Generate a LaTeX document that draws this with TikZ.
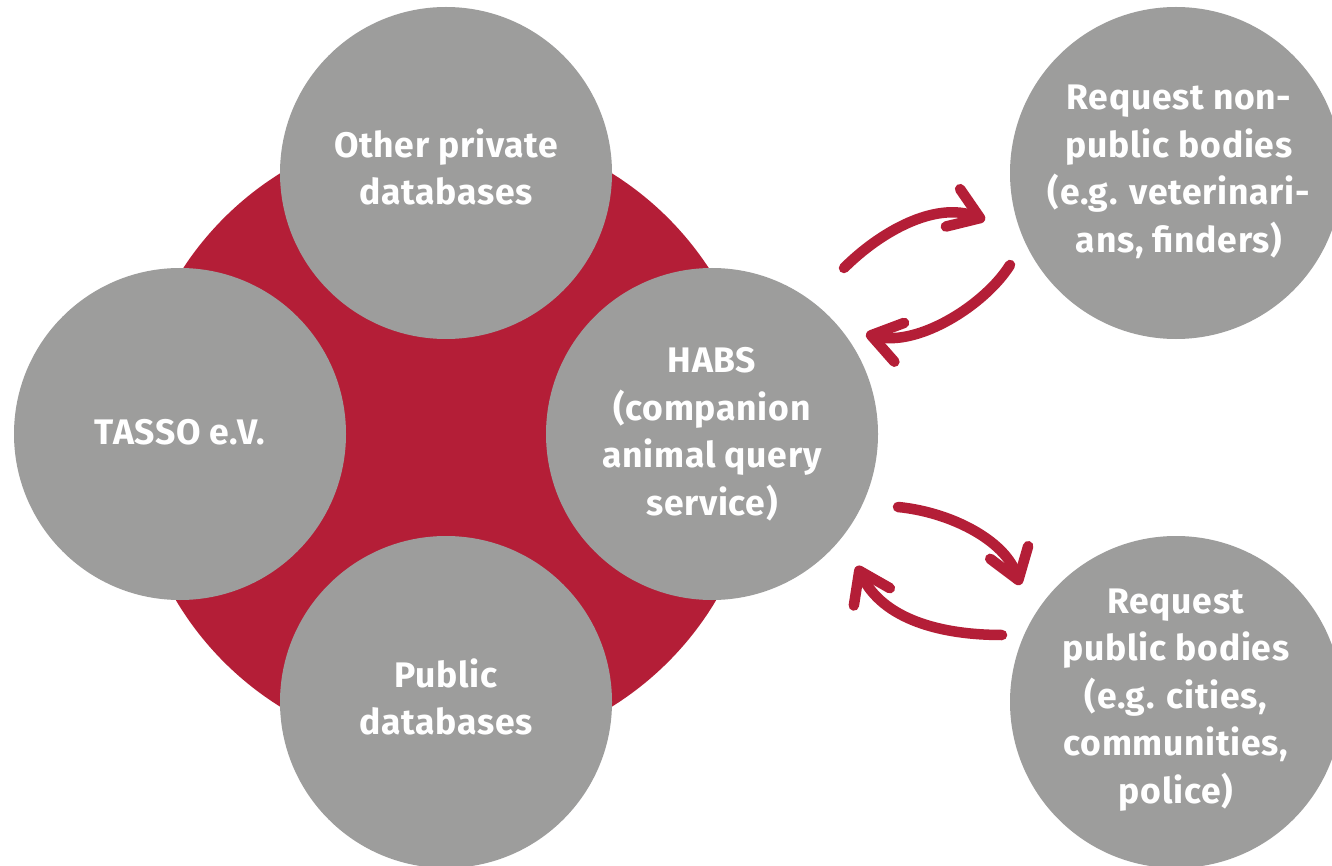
\documentclass[tikz,border=0pt]{standalone}
\usepackage{fontspec}
\setmainfont{Fira Sans}[LetterSpace=2]
\usetikzlibrary{arrows.meta,calc}
\definecolor{tred}{HTML}{B41E37}
\definecolor{tgray}{HTML}{9D9D9C}
\begin{document}
\begin{tikzpicture}[x=1pt,y=-1pt,
  bub/.style={circle,fill=tgray,minimum size=332pt,inner sep=0pt},
  txt/.style={text=white,align=center,inner sep=0pt,font=\fontsize{35.5}{47.5}\selectfont\bfseries},
  flow/.style={draw=tred,line width=10.5pt,line cap=round,
    -{Straight Barb[length=29pt,width=40pt,line cap=round,line join=round]}}]
\useasboundingbox (0,0) rectangle (1332,866);
\fill[white] (0,0) rectangle (1332,866);
\node[circle,fill=tred,minimum size=628pt,inner sep=0pt] (core) at (446,440) {};
\node[bub] (top) at (446,173) {};
\node[bub] (tasso) at (180,434) {};
\node[bub] (habs) at (712,434) {};
\node[bub] (pub) at (446,702) {};
\node[bub] (np) at (1176,173) {};
\node[bub] (pb) at (1176,702) {};
\node[txt] (ttop) at ($(top)+(0,-6)$) {Other private\\databases};
\node[txt] (ttasso) at ($(tasso)+(0,-2)$) {TASSO e.V.};
\node[txt] (thabs) at ($(habs)+(0,0)$) {HABS\\(companion\\animal query\\service)};
\node[txt] (tpub) at ($(pub)+(0,-5)$) {Public\\databases};
\node[txt] (tnp) at ($(np)+(3,-1)$) {Request non-\\public bodies\\(e.g. veterinari-\\ans, finders)};
\node[txt] (tpb) at ($(pb)+(0,-2)$) {Request\\public bodies\\(e.g. cities,\\communities,\\police)};
\coordinate (a1s) at ($(habs)+(132,-166)$);
\coordinate (a1e) at ($(np)+(-191,47)$);
\coordinate (a2s) at ($(np)+(-166,92)$);
\coordinate (a2e) at ($(habs)+(154,-100)$);
\coordinate (a3s) at ($(habs)+(186,73)$);
\coordinate (a3e) at ($(pb)+(-156,-117)$);
\coordinate (a4s) at ($(pb)+(-174,-67)$);
\coordinate (a4e) at ($(habs)+(145,132)$);
\draw[flow] (a1s) .. controls +(36,-36) and +(-50,-19) .. (a1e);
\draw[flow] (a2s) .. controls +(-25,40) and +(52,13) .. (a2e);
\draw[flow] (a3s) .. controls +(52,5) and +(-15,-45) .. (a3e);
\draw[flow] (a4s) .. controls +(-60,0) and +(26,54) .. (a4e);
\end{tikzpicture}
\end{document}
